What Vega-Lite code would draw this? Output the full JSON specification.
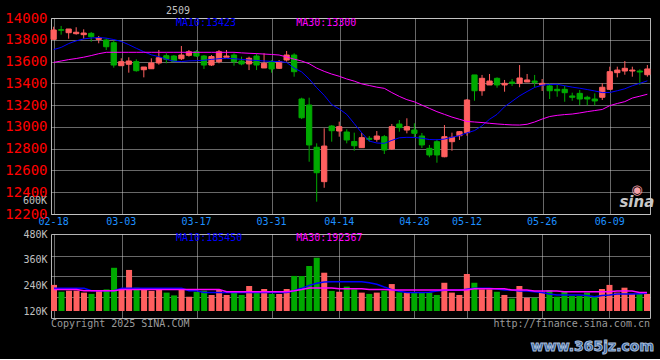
{
"$schema": "https://vega.github.io/schema/vega-lite/v6.json",
"background": "#000000",
"padding": {"left": 4, "top": 5, "right": 6, "bottom": 4},
"bounds": "flush",
"spacing": 20,
"title": {"text": "2509", "anchor": "start", "frame": "group", "dx": 115, "offset": -5, "fontSize": 10, "font": "DejaVu Sans Mono", "fontWeight": "normal", "color": "#c0c0c0"},
"config": {
  "view": {"stroke": "#b4b4b4", "strokeWidth": 1},
  "axis": {"domain": false, "ticks": false, "gridColor": "#d0d0d0", "gridDash": [1, 1], "gridWidth": 1, "gridOpacity": 1, "labelFont": "DejaVu Sans Mono", "title": null, "labelFlush": false, "labelOverlap": false},
  "text": {"font": "DejaVu Sans Mono"}
},
"datasets": {"k": [
{"d":"02-18","o":13804,"h":13920,"l":13803,"c":13890,"v":242000,"m10":13710,"m30":13592,"vm10":226000,"vm30":221000},
{"d":"02-19","o":13892,"h":13927,"l":13847,"c":13888,"v":210000,"m10":13730,"m30":13605,"vm10":226000,"vm30":221000},
{"d":"02-20","o":13865,"h":13899,"l":13810,"c":13899,"v":215000,"m10":13765,"m30":13618,"vm10":226000,"vm30":221000},
{"d":"02-21","o":13856,"h":13915,"l":13847,"c":13869,"v":215000,"m10":13790,"m30":13628,"vm10":226000,"vm30":221000},
{"d":"02-24","o":13847,"h":13896,"l":13810,"c":13862,"v":206000,"m10":13808,"m30":13640,"vm10":226000,"vm30":215000},
{"d":"02-25","o":13859,"h":13871,"l":13782,"c":13828,"v":200000,"m10":13816,"m30":13655,"vm10":215000,"vm30":215000},
{"d":"02-26","o":13804,"h":13835,"l":13768,"c":13816,"v":214000,"m10":13821,"m30":13672,"vm10":215000,"vm30":215000},
{"d":"02-27","o":13798,"h":13814,"l":13706,"c":13736,"v":221000,"m10":13815,"m30":13685,"vm10":215000,"vm30":215000},
{"d":"02-28","o":13773,"h":13792,"l":13544,"c":13568,"v":322000,"m10":13802,"m30":13685,"vm10":215000,"vm30":215000},
{"d":"03-03","o":13562,"h":13630,"l":13562,"c":13599,"v":223000,"m10":13785,"m30":13685,"vm10":226000,"vm30":221000},
{"d":"03-04","o":13575,"h":13639,"l":13498,"c":13605,"v":312000,"m10":13755,"m30":13685,"vm10":226000,"vm30":221000},
{"d":"03-05","o":13599,"h":13621,"l":13507,"c":13516,"v":229000,"m10":13722,"m30":13685,"vm10":226000,"vm30":221000},
{"d":"03-06","o":13525,"h":13550,"l":13455,"c":13550,"v":223000,"m10":13690,"m30":13685,"vm10":226000,"vm30":221000},
{"d":"03-07","o":13534,"h":13630,"l":13534,"c":13587,"v":214000,"m10":13662,"m30":13685,"vm10":226000,"vm30":221000},
{"d":"03-10","o":13587,"h":13706,"l":13571,"c":13635,"v":221000,"m10":13645,"m30":13685,"vm10":226000,"vm30":221000},
{"d":"03-11","o":13654,"h":13676,"l":13584,"c":13621,"v":206000,"m10":13620,"m30":13685,"vm10":226000,"vm30":221000},
{"d":"03-12","o":13651,"h":13660,"l":13596,"c":13602,"v":193000,"m10":13603,"m30":13685,"vm10":226000,"vm30":221000},
{"d":"03-13","o":13626,"h":13743,"l":13614,"c":13660,"v":223000,"m10":13600,"m30":13685,"vm10":226000,"vm30":221000},
{"d":"03-14","o":13657,"h":13706,"l":13645,"c":13690,"v":187000,"m10":13606,"m30":13685,"vm10":215000,"vm30":221000},
{"d":"03-17","o":13690,"h":13706,"l":13642,"c":13651,"v":210000,"m10":13608,"m30":13685,"vm10":215000,"vm30":221000},
{"d":"03-18","o":13651,"h":13660,"l":13532,"c":13568,"v":215000,"m10":13612,"m30":13685,"vm10":206000,"vm30":221000},
{"d":"03-19","o":13568,"h":13660,"l":13559,"c":13646,"v":195000,"m10":13620,"m30":13685,"vm10":206000,"vm30":221000},
{"d":"03-20","o":13599,"h":13706,"l":13584,"c":13690,"v":218000,"m10":13626,"m30":13685,"vm10":206000,"vm30":221000},
{"d":"03-21","o":13639,"h":13706,"l":13639,"c":13651,"v":195000,"m10":13630,"m30":13685,"vm10":206000,"vm30":210000},
{"d":"03-24","o":13660,"h":13676,"l":13562,"c":13599,"v":210000,"m10":13626,"m30":13685,"vm10":206000,"vm30":210000},
{"d":"03-25","o":13605,"h":13645,"l":13566,"c":13578,"v":195000,"m10":13620,"m30":13680,"vm10":206000,"vm30":210000},
{"d":"03-26","o":13578,"h":13645,"l":13522,"c":13630,"v":237000,"m10":13614,"m30":13676,"vm10":206000,"vm30":210000},
{"d":"03-27","o":13651,"h":13676,"l":13522,"c":13568,"v":214000,"m10":13610,"m30":13673,"vm10":206000,"vm30":210000},
{"d":"03-28","o":13541,"h":13676,"l":13541,"c":13584,"v":223000,"m10":13605,"m30":13669,"vm10":206000,"vm30":210000},
{"d":"03-31","o":13599,"h":13614,"l":13498,"c":13532,"v":200000,"m10":13602,"m30":13665,"vm10":206000,"vm30":210000},
{"d":"04-01","o":13538,"h":13614,"l":13532,"c":13599,"v":200000,"m10":13600,"m30":13660,"vm10":206000,"vm30":210000},
{"d":"04-02","o":13614,"h":13697,"l":13599,"c":13660,"v":223000,"m10":13592,"m30":13642,"vm10":206000,"vm30":210000},
{"d":"04-03","o":13660,"h":13676,"l":13461,"c":13507,"v":284000,"m10":13540,"m30":13622,"vm10":215000,"vm30":215000},
{"d":"04-07","o":13256,"h":13268,"l":13072,"c":13084,"v":284000,"m10":13505,"m30":13605,"vm10":226000,"vm30":221000},
{"d":"04-08","o":13201,"h":13268,"l":12680,"c":12834,"v":330000,"m10":13440,"m30":13580,"vm10":240000,"vm30":228000},
{"d":"04-09","o":12813,"h":12849,"l":12313,"c":12579,"v":369000,"m10":13360,"m30":13540,"vm10":250000,"vm30":228000},
{"d":"04-10","o":12497,"h":12987,"l":12441,"c":12824,"v":299000,"m10":13290,"m30":13510,"vm10":256000,"vm30":228000},
{"d":"04-11","o":13008,"h":13017,"l":12864,"c":12965,"v":214000,"m10":13205,"m30":13485,"vm10":257000,"vm30":228000},
{"d":"04-14","o":12962,"h":13048,"l":12910,"c":13002,"v":210000,"m10":13165,"m30":13465,"vm10":257000,"vm30":224000},
{"d":"04-15","o":12953,"h":12978,"l":12849,"c":12880,"v":234000,"m10":13115,"m30":13440,"vm10":257000,"vm30":224000},
{"d":"04-16","o":12866,"h":12947,"l":12781,"c":12827,"v":221000,"m10":13030,"m30":13420,"vm10":257000,"vm30":224000},
{"d":"04-17","o":12809,"h":12944,"l":12809,"c":12901,"v":206000,"m10":12945,"m30":13395,"vm10":257000,"vm30":224000},
{"d":"04-18","o":12895,"h":12916,"l":12864,"c":12886,"v":200000,"m10":12870,"m30":13380,"vm10":252000,"vm30":220000},
{"d":"04-21","o":12886,"h":12962,"l":12864,"c":12916,"v":206000,"m10":12852,"m30":13365,"vm10":245000,"vm30":220000},
{"d":"04-22","o":12910,"h":12925,"l":12751,"c":12788,"v":215000,"m10":12849,"m30":13354,"vm10":232000,"vm30":220000},
{"d":"04-23","o":12797,"h":13026,"l":12788,"c":13002,"v":246000,"m10":12876,"m30":13315,"vm10":220000,"vm30":218000},
{"d":"04-24","o":13026,"h":13063,"l":12956,"c":12993,"v":207000,"m10":12900,"m30":13280,"vm10":212000,"vm30":218000},
{"d":"04-25","o":12971,"h":13079,"l":12941,"c":13002,"v":206000,"m10":12904,"m30":13250,"vm10":206000,"vm30":218000},
{"d":"04-28","o":12971,"h":13033,"l":12901,"c":12941,"v":206000,"m10":12903,"m30":13230,"vm10":206000,"vm30":218000},
{"d":"04-29","o":12916,"h":12944,"l":12806,"c":12834,"v":206000,"m10":12896,"m30":13200,"vm10":206000,"vm30":218000},
{"d":"04-30","o":12803,"h":12834,"l":12721,"c":12742,"v":206000,"m10":12884,"m30":13170,"vm10":208000,"vm30":218000},
{"d":"05-06","o":12864,"h":12886,"l":12671,"c":12742,"v":195000,"m10":12882,"m30":13140,"vm10":213000,"vm30":218000},
{"d":"05-07","o":12726,"h":13017,"l":12721,"c":12910,"v":252000,"m10":12888,"m30":13115,"vm10":217000,"vm30":218000},
{"d":"05-08","o":12864,"h":12947,"l":12781,"c":12904,"v":206000,"m10":12905,"m30":13090,"vm10":217000,"vm30":218000},
{"d":"05-09","o":12919,"h":12962,"l":12880,"c":12956,"v":195000,"m10":12920,"m30":13070,"vm10":217000,"vm30":218000},
{"d":"05-12","o":12947,"h":13256,"l":12919,"c":13247,"v":293000,"m10":12945,"m30":13050,"vm10":222000,"vm30":218000},
{"d":"05-13","o":13477,"h":13477,"l":13240,"c":13332,"v":252000,"m10":12966,"m30":13045,"vm10":226000,"vm30":224000},
{"d":"05-14","o":13332,"h":13477,"l":13286,"c":13446,"v":221000,"m10":13010,"m30":13040,"vm10":226000,"vm30":224000},
{"d":"05-15","o":13385,"h":13486,"l":13385,"c":13421,"v":221000,"m10":13070,"m30":13033,"vm10":226000,"vm30":224000},
{"d":"05-16","o":13446,"h":13455,"l":13360,"c":13385,"v":210000,"m10":13115,"m30":13027,"vm10":223000,"vm30":224000},
{"d":"05-19","o":13385,"h":13431,"l":13323,"c":13400,"v":195000,"m10":13185,"m30":13022,"vm10":218000,"vm30":224000},
{"d":"05-20","o":13412,"h":13440,"l":13376,"c":13400,"v":178000,"m10":13235,"m30":13018,"vm10":218000,"vm30":218000},
{"d":"05-21","o":13400,"h":13568,"l":13364,"c":13449,"v":237000,"m10":13285,"m30":13017,"vm10":214000,"vm30":218000},
{"d":"05-22","o":13412,"h":13486,"l":13412,"c":13431,"v":182000,"m10":13325,"m30":13024,"vm10":214000,"vm30":218000},
{"d":"05-23","o":13421,"h":13477,"l":13364,"c":13409,"v":182000,"m10":13362,"m30":13045,"vm10":210000,"vm30":213000},
{"d":"05-26","o":13385,"h":13440,"l":13330,"c":13400,"v":210000,"m10":13383,"m30":13072,"vm10":206000,"vm30":213000},
{"d":"05-27","o":13376,"h":13400,"l":13256,"c":13332,"v":218000,"m10":13390,"m30":13095,"vm10":200000,"vm30":213000},
{"d":"05-28","o":13345,"h":13385,"l":13277,"c":13332,"v":187000,"m10":13391,"m30":13106,"vm10":195000,"vm30":213000},
{"d":"05-29","o":13345,"h":13376,"l":13231,"c":13314,"v":214000,"m10":13378,"m30":13113,"vm10":195000,"vm30":210000},
{"d":"05-30","o":13284,"h":13314,"l":13240,"c":13272,"v":190000,"m10":13365,"m30":13118,"vm10":195000,"vm30":210000},
{"d":"06-03","o":13308,"h":13339,"l":13201,"c":13256,"v":190000,"m10":13355,"m30":13128,"vm10":195000,"vm30":210000},
{"d":"06-04","o":13272,"h":13286,"l":13198,"c":13256,"v":206000,"m10":13343,"m30":13140,"vm10":192000,"vm30":210000},
{"d":"06-05","o":13256,"h":13308,"l":13198,"c":13238,"v":187000,"m10":13330,"m30":13150,"vm10":187000,"vm30":210000},
{"d":"06-06","o":13272,"h":13400,"l":13247,"c":13364,"v":223000,"m10":13315,"m30":13160,"vm10":192000,"vm30":210000},
{"d":"06-09","o":13345,"h":13553,"l":13339,"c":13507,"v":242000,"m10":13316,"m30":13195,"vm10":195000,"vm30":210000},
{"d":"06-10","o":13498,"h":13553,"l":13455,"c":13522,"v":206000,"m10":13332,"m30":13215,"vm10":199000,"vm30":213000},
{"d":"06-11","o":13513,"h":13605,"l":13479,"c":13538,"v":229000,"m10":13350,"m30":13232,"vm10":199000,"vm30":213000},
{"d":"06-12","o":13513,"h":13553,"l":13461,"c":13522,"v":200000,"m10":13378,"m30":13265,"vm10":199000,"vm30":213000},
{"d":"06-13","o":13513,"h":13529,"l":13385,"c":13504,"v":200000,"m10":13400,"m30":13282,"vm10":201000,"vm30":207000},
{"d":"06-16","o":13479,"h":13568,"l":13461,"c":13532,"v":200000,"m10":13423,"m30":13300,"vm10":203000,"vm30":207000}
]},
"vconcat": [
{
  "width": 599, "height": 196,
  "layer": [
    {"data": {"name": "k"},
     "mark": {"type": "rule", "strokeWidth": 1},
     "encoding": {
       "x": {"field": "d", "type": "ordinal", "sort": null, "scale": {"type": "band", "paddingInner": 0.3, "paddingOuter": 0},
             "axis": {"values": ["02-18","03-03","03-17","03-31","04-14","04-28","05-12","05-26","06-09"], "labelColor": "#1e90ff", "labelFontSize": 10, "labelPadding": 2, "labelAngle": 0, "bandPosition": 0.67, "grid": true, "labelOverlap": false}},
       "y": {"field": "l", "type": "quantitative", "scale": {"domain": [12200, 14000], "nice": false, "zero": false},
             "axis": {"values": [12200,12400,12600,12800,13000,13200,13400,13600,13800,14000], "tickCount": 20, "format": "d", "labelColor": "#ff0000", "labelFontSize": 14, "labelPadding": 4, "grid": true, "labelOverlap": false}},
       "y2": {"field": "h"},
       "color": {"condition": {"test": "datum.c >= datum.o", "value": "#ff5f5f"}, "value": "#00aa00"}
     }},
    {"data": {"name": "k"},
     "mark": {"type": "bar", "strokeWidth": 1},
     "encoding": {
       "x": {"field": "d", "type": "ordinal", "sort": null},
       "y": {"field": "o", "type": "quantitative"},
       "y2": {"field": "c"},
       "color": {"condition": {"test": "datum.c >= datum.o", "value": "#ff5f5f"}, "value": "#00aa00"},
       "stroke": {"condition": {"test": "datum.c >= datum.o", "value": "#ff5f5f"}, "value": "#00aa00"}
     }},
    {"data": {"name": "k"},
     "mark": {"type": "line", "color": "#0000ff", "strokeWidth": 1},
     "encoding": {"x": {"field": "d", "type": "ordinal", "sort": null}, "y": {"field": "m10", "type": "quantitative"}}},
    {"data": {"name": "k"},
     "mark": {"type": "line", "color": "#ff00ff", "strokeWidth": 1},
     "encoding": {"x": {"field": "d", "type": "ordinal", "sort": null}, "y": {"field": "m30", "type": "quantitative"}}},
    {"data": {"values": [{}]},
     "mark": {"type": "text", "text": "MA10:13423", "align": "left", "baseline": "middle", "fontSize": 10, "color": "#0000ff", "dx": 2, "dy": 5},
     "encoding": {"x": {"datum": "03-12", "type": "ordinal"}, "y": {"datum": 14000, "type": "quantitative"}}},
    {"data": {"values": [{}]},
     "mark": {"type": "text", "text": "MA30:13300", "align": "left", "baseline": "middle", "fontSize": 10, "color": "#ff00ff", "dx": 2, "dy": 5},
     "encoding": {"x": {"datum": "04-03", "type": "ordinal"}, "y": {"datum": 14000, "type": "quantitative"}}},
    {"data": {"values": [{}]},
     "mark": {"type": "text", "text": "◉", "align": "center", "baseline": "middle", "fontSize": 13, "font": "DejaVu Sans", "color": "#f4a0a8", "dx": -3, "dy": -12},
     "encoding": {"x": {"datum": "06-13", "type": "ordinal"}, "y": {"datum": 12310, "type": "quantitative"}}},
    {"data": {"values": [{}]},
     "mark": {"type": "text", "text": "sina", "align": "center", "baseline": "middle", "fontSize": 15, "font": "DejaVu Sans", "fontStyle": "italic", "fontWeight": "bold", "color": "#c8c8c8", "dx": -3},
     "encoding": {"x": {"datum": "06-13", "type": "ordinal"}, "y": {"datum": 12310, "type": "quantitative"}}}
  ]
},
{
  "width": 599, "height": 84,
  "resolve": {"axis": {"y": "independent"}},
  "layer": [
    {"data": {"name": "k"},
     "mark": {"type": "bar"},
     "encoding": {
       "x": {"field": "d", "type": "ordinal", "sort": null, "scale": {"type": "band", "paddingInner": 0.2, "paddingOuter": 0},
             "axis": {"values": ["02-18","03-03","03-17","03-31","04-14","04-28","05-12","05-26","06-09"], "labels": false, "bandPosition": 0.58, "grid": true}},
       "y": {"field": "v", "type": "quantitative", "scale": {"domain": [87300, 480000], "nice": false, "zero": false},
             "axis": {"values": [120000, 240000, 360000, 480000], "tickCount": 10, "labelExpr": "datum.value / 1000 + 'K'", "labelColor": "#c0c0c0", "labelFontSize": 10, "labelPadding": 4, "grid": false, "labelOverlap": false}},
       "y2": {"datum": 120000},
       "color": {"condition": {"test": "datum.c >= datum.o", "value": "#ff5f5f"}, "value": "#00aa00"}
     }},
    {"data": {"name": "k"},
     "mark": {"type": "line", "color": "#0000ff", "strokeWidth": 1.5},
     "encoding": {"x": {"field": "d", "type": "ordinal", "sort": null},
                  "y": {"field": "vm10", "type": "quantitative", "axis": {"orient": "left", "labels": false, "grid": true, "tickCount": 10, "values": [185500, 283600, 378600]}}}},
    {"data": {"name": "k"},
     "mark": {"type": "line", "color": "#ff00ff", "strokeWidth": 1.5},
     "encoding": {"x": {"field": "d", "type": "ordinal", "sort": null},
                  "y": {"field": "vm30", "type": "quantitative", "axis": null}}},
    {"data": {"values": [{}]},
     "mark": {"type": "text", "text": "MA10:185450", "align": "left", "baseline": "middle", "fontSize": 10, "color": "#0000ff", "dx": 2, "dy": 4},
     "encoding": {"x": {"datum": "03-12", "type": "ordinal"}, "y": {"datum": 480000, "type": "quantitative", "axis": null}}},
    {"data": {"values": [{}]},
     "mark": {"type": "text", "text": "MA30:192367", "align": "left", "baseline": "middle", "fontSize": 10, "color": "#ff00ff", "dx": 2, "dy": 4},
     "encoding": {"x": {"datum": "04-03", "type": "ordinal"}, "y": {"datum": 480000, "type": "quantitative", "axis": null}}},
    {"data": {"values": [{}]},
     "mark": {"type": "text", "text": "600K", "align": "right", "baseline": "middle", "fontSize": 10, "color": "#c0c0c0", "dx": -7, "dy": -7},
     "encoding": {"x": {"datum": "02-18", "type": "ordinal"}, "y": {"datum": 600000, "type": "quantitative", "axis": null}}},
    {"data": {"values": [{}]},
     "mark": {"type": "text", "text": "Copyright 2025 SINA.COM", "align": "left", "baseline": "middle", "fontSize": 10, "color": "#9a9a9a", "dx": -3, "dy": 6},
     "encoding": {"x": {"datum": "02-18", "type": "ordinal"}, "y": {"datum": 87300, "type": "quantitative", "axis": null}}},
    {"data": {"values": [{}]},
     "mark": {"type": "text", "text": "http://finance.sina.com.cn", "align": "right", "baseline": "middle", "fontSize": 10, "color": "#9a9a9a", "dx": 3, "dy": 6},
     "encoding": {"x": {"datum": "06-16", "type": "ordinal"}, "y": {"datum": 87300, "type": "quantitative", "axis": null}}},
    {"data": {"values": [{}]},
     "mark": {"type": "text", "text": "www.365jz.com", "align": "right", "baseline": "middle", "fontSize": 14, "font": "DejaVu Sans", "fontWeight": "bold", "color": "#2e5f9e", "stroke": "#a8bcd8", "strokeWidth": 1, "dx": 7, "dy": 29},
     "encoding": {"x": {"datum": "06-16", "type": "ordinal"}, "y": {"datum": 87300, "type": "quantitative", "axis": null}}}
  ]
}
]
}
